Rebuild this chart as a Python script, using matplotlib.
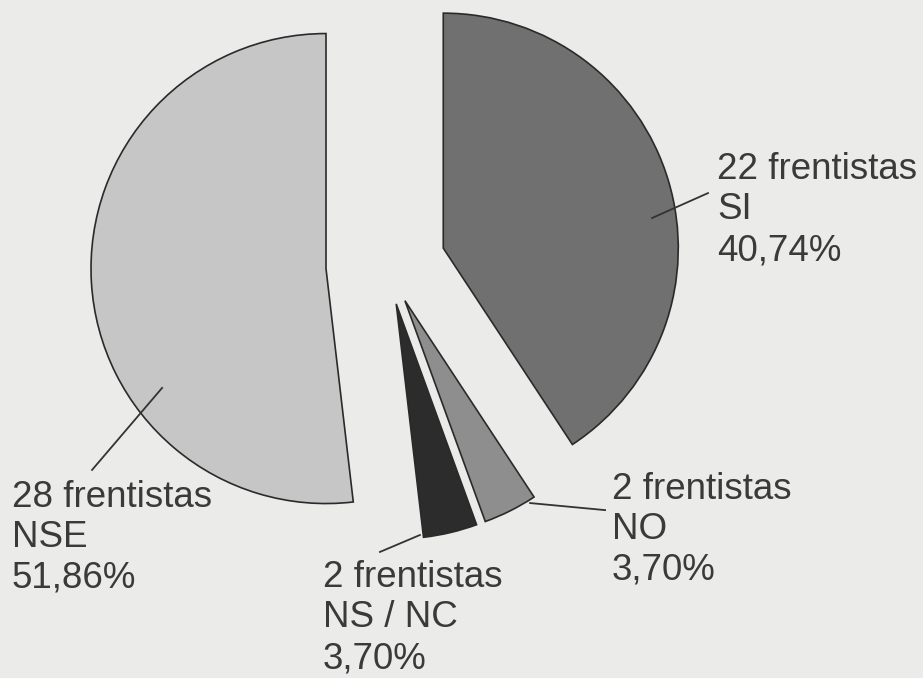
import matplotlib
matplotlib.use("Agg")
import matplotlib.pyplot as plt

categories = ["SI", "NO", "NS / NC", "NSE"]
counts = [22, 2, 2, 28]
percents = ["40,74%", "3,70%", "3,70%", "51,86%"]
unit = "frentistas"

colors = ["#707070", "#8e8e8e", "#2c2c2c", "#c6c6c6"]
explode = [0.25, 0.17, 0.17, 0.26]

# label layout: (leader start, leader end, text anchor at last baseline) in data units
label_pos = [
    ((1.128, 0.200), (1.366, 0.306), (1.404, 0.021)),
    ((0.609, -1.013), (0.928, -1.043), (0.957, -1.340)),
    ((0.140, -1.149), (-0.030, -1.221), (-0.272, -1.715)),
    ((-0.957, -0.523), (-1.255, -0.872), (-1.596, -1.374)),
]

plt.rcParams['font.family'] = ['Liberation Sans', 'DejaVu Sans']

fig = plt.figure(figsize=(9.23, 6.78), dpi=100)
fig.patch.set_facecolor("#ebebe9")
ax = fig.add_axes([0, 0, 1, 1])
ax.set_facecolor("#ebebe9")

ax.pie(counts, explode=explode, colors=colors, startangle=90,
       counterclock=False, radius=1.0,
       wedgeprops=dict(edgecolor="#2a2a2a", linewidth=1.2))

for cat, n, pct, (p0, p1, pt) in zip(categories, counts, percents, label_pos):
    ax.plot([p0[0], p1[0]], [p0[1], p1[1]], color="#333333", lw=1.3)
    ax.text(pt[0], pt[1], f"{n} {unit}\n{cat}\n{pct}", fontsize=26.5,
            color="#3a3a3a", ha="left", va="baseline", linespacing=1.21)

ax.set_xlim(-387 / 235, 536 / 235)
ax.set_ylim(-413 / 235, 265 / 235)
ax.set_aspect("auto")
ax.axis("off")

fig.savefig("out.png", dpi=100, facecolor=fig.get_facecolor())
